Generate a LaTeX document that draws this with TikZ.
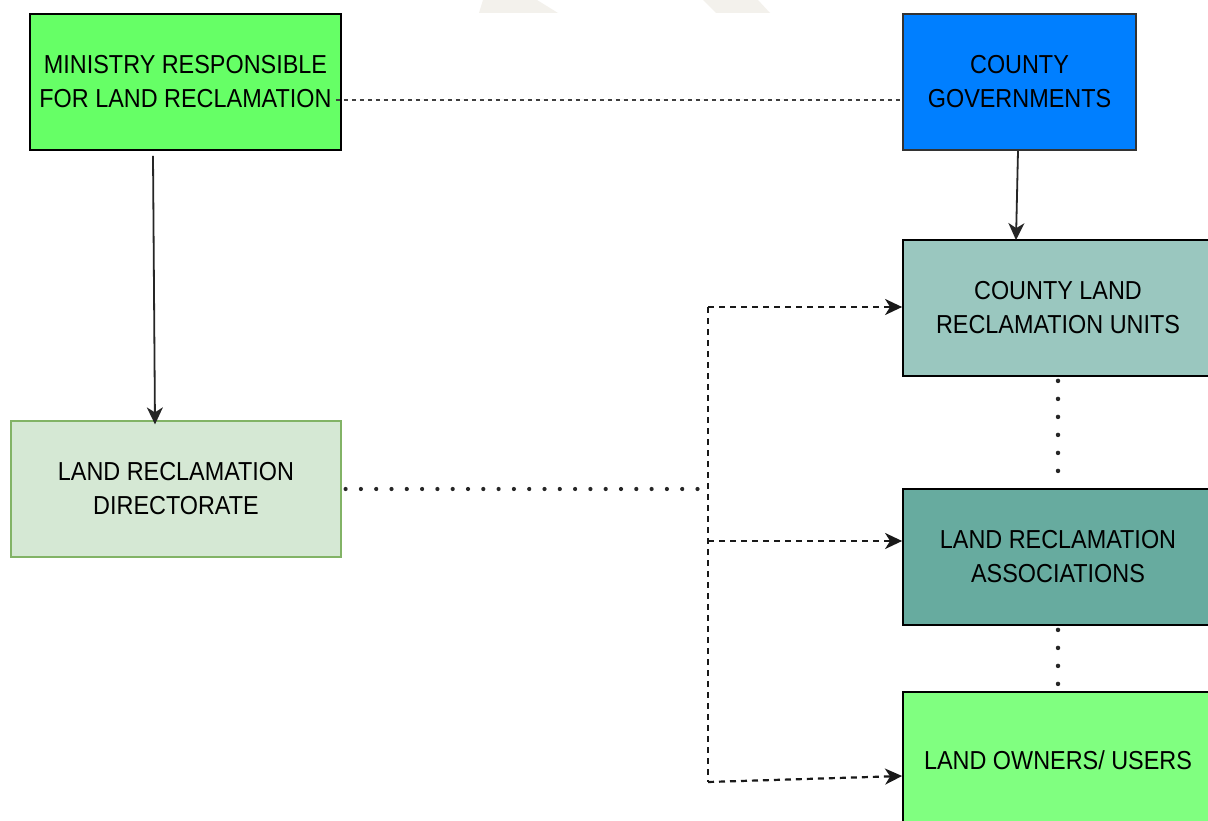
\documentclass[tikz,border=0pt]{standalone}
\usepackage{fontspec}
\setmainfont{Liberation Sans}[FakeStretch=0.9]
\usetikzlibrary{arrows.meta}
\definecolor{cmin}{HTML}{66FF66}
\definecolor{ccg}{HTML}{007FFF}
\definecolor{cclu}{HTML}{9AC7BF}
\definecolor{clra}{HTML}{67AB9F}
\definecolor{clou}{HTML}{80FF80}
\definecolor{clrd}{HTML}{D5E8D4}
\definecolor{clrdb}{HTML}{82B366}
\definecolor{wm}{HTML}{F3F1EC}
\tikzset{
  box/.style={draw=black, line width=1.8pt, minimum height=136pt, inner sep=0pt,
    align=center, font=\fontsize{26}{34}\selectfont, text=black},
  solidarrow/.style={line width=1.8pt, draw=black!85},
  topdots/.style={line width=2pt, draw=black!75, dash pattern=on 4pt off 4pt},
  bigdots/.style={line width=4.2pt, draw=black!85, line cap=round, dash pattern=on 0pt off 15.3pt},
  vdots/.style={line width=4.5pt, draw=black!85, line cap=round, dash pattern=on 0pt off 18pt},
  dasharrow/.style={line width=2.2pt, draw=black!90, dash pattern=on 6pt off 5pt},
  dashline/.style={line width=2.2pt, draw=black!90, dash pattern=on 6pt off 5pt},
}
\begin{document}
\begin{tikzpicture}[x=1pt,y=-1pt,>={Stealth[length=17pt,width=16pt,inset=5pt]}]
\useasboundingbox (0,0) rectangle (1208,821);
\clip (0,0) rectangle (1208,821);
\fill[white] (0,0) rectangle (1208,821);
% watermark remnants
\fill[wm] (479,13) -- (483,0) -- (537,0) -- (558,13) -- cycle;
\fill[wm] (716,13) -- (703,0) -- (758,0) -- (770,13) -- cycle;

\node[box, fill=cmin, minimum width=311pt] (min) at (185.5,82) {MINISTRY RESPONSIBLE\\FOR LAND RECLAMATION};
\node[box, fill=ccg, minimum width=233pt, draw=black!80] (cg) at (1019.5,82) {COUNTY\\GOVERNMENTS};
\node[box, fill=cclu, minimum width=310pt] (clu) at (1058,308) {COUNTY LAND\\RECLAMATION UNITS};
\node[box, fill=clra, minimum width=310pt] (lra) at (1058,557) {LAND RECLAMATION\\ASSOCIATIONS};
\node[box, fill=clou, minimum width=310pt] (lou) at (1058,760) {LAND OWNERS/ USERS};
\node[box, fill=clrd, draw=clrdb, line width=1.2pt, minimum width=330pt] (lrd) at (176,489) {LAND RECLAMATION\\DIRECTORATE};

% connectors
\draw[topdots] ([xshift=-6pt,yshift=-18pt]min.east) -- ([yshift=-18pt]cg.west);
\draw[solidarrow,->] ([xshift=-32.5pt,yshift=-5pt]min.south) -- ([xshift=-21pt,yshift=-4pt]lrd.north);
\draw[solidarrow,->] ([xshift=-1.5pt]cg.south) -- ([xshift=-42pt,yshift=-1pt]clu.north);

\coordinate (j) at (708,489);
\coordinate (jt) at (708,307);
\coordinate (jm) at (708,541);
\coordinate (jb) at (708,782);
\draw[bigdots] ([xshift=4pt]lrd.east) -- ([xshift=-4pt]j);
\draw[dashline] (jt) -- (jb);
\draw[dasharrow,->] (jt) -- ([yshift=1pt]clu.west);
\draw[dasharrow,->] (jm) -- ([yshift=16pt]lra.west);
\draw[dasharrow,->] (jb) -- ([yshift=-16pt]lou.west);

\draw[vdots] ([yshift=-4pt]clu.south) -- (lra.north);
\draw[vdots] ([yshift=-4pt]lra.south) -- (lou.north);
\end{tikzpicture}
\end{document}
